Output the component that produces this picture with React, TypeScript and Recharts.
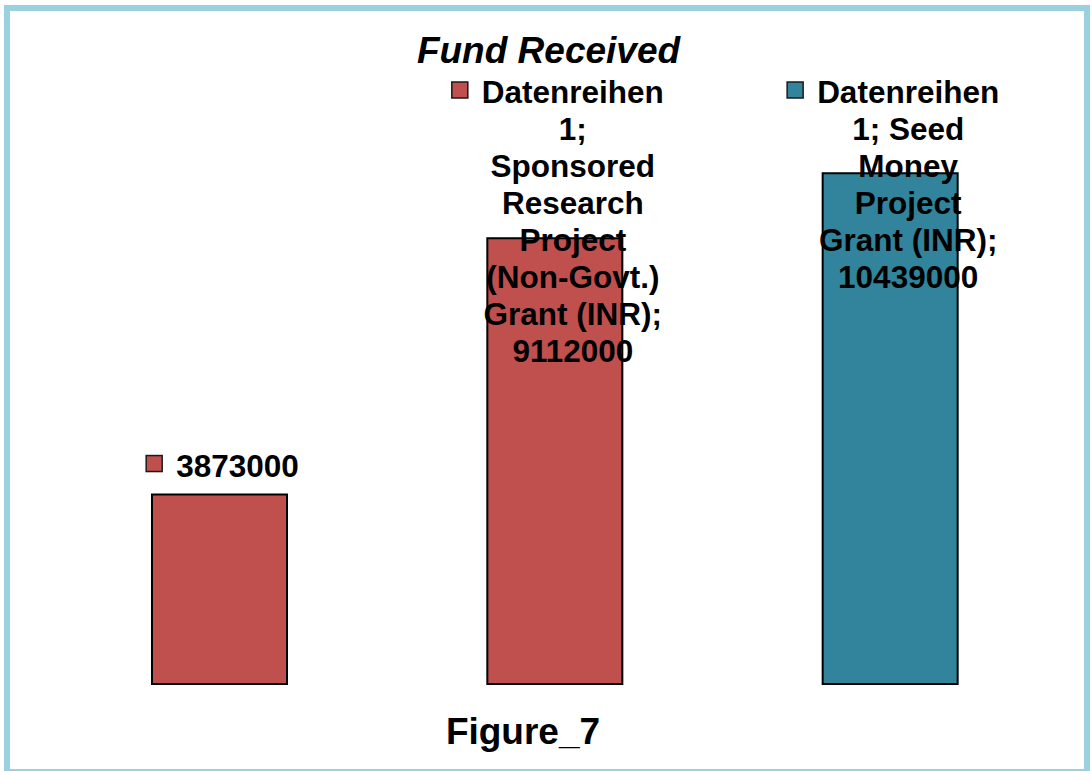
import { Bar, BarChart, Cell, LabelList, XAxis, YAxis } from 'recharts'

const categories = [
  'Govt. Grant (INR)',
  'Sponsored Research Project (Non-Govt.) Grant (INR)',
  'Seed Money Project Grant (INR)',
]
const values = [3873000, 9112000, 10439000]
const barColors = ['#C0504D', '#C0504D', '#31849B']
const labelLines = [
  ['3873000'],
  [
    'Datenreihen',
    '1;',
    'Sponsored',
    'Research',
    'Project',
    '(Non-Govt.)',
    'Grant (INR);',
    '9112000',
  ],
  ['Datenreihen', '1; Seed', 'Money', 'Project', 'Grant (INR);', '10439000'],
]

const data = categories.map((name, i) => ({ name, value: values[i] }))

const FONT = '"Liberation Sans", Arial, Helvetica, sans-serif'
const LABEL_SIZE = 31.5
const LINE_H = 37

let ctx: CanvasRenderingContext2D | null = null
function measure(s: string) {
  if (!ctx) ctx = document.createElement('canvas').getContext('2d')
  if (!ctx) return s.length * LABEL_SIZE * 0.6
  ctx.font = `bold ${LABEL_SIZE}px ${FONT}`
  return ctx.measureText(s).width
}

function BarLabel(props: any) {
  const { x, y, width, index } = props
  const lines = labelLines[index] ?? []
  const textW = Math.max(...lines.map(measure))
  const blockW = 16 + 14 + textW
  const cx = Number(x) + Number(width) / 2
  const left = cx - blockW / 2 + 3
  const textCx = left + 30 + textW / 2
  // first line sits just above the bar, but never above the plot top
  const firstBase = Math.max(Number(y) - 18 - (lines.length - 1) * LINE_H, 103)
  return (
    <g>
      <rect
        x={left}
        y={firstBase - 21}
        width={16}
        height={16}
        fill={barColors[index]}
        stroke="#1a1a1a"
        strokeWidth={1.5}
      />
      {lines.map((l, i) => (
        <text
          key={i}
          x={textCx}
          y={firstBase + i * LINE_H}
          textAnchor="middle"
          fontFamily={FONT}
          fontWeight="bold"
          fontSize={LABEL_SIZE}
          fill="#000"
        >
          {l}
        </text>
      ))}
    </g>
  )
}

export default function App() {
  return (
    <div
      style={{
        position: 'absolute',
        left: 0,
        top: 0,
        width: 1092,
        height: 771,
        overflow: 'hidden',
        background: '#fff',
      }}
    >
      <div
        style={{
          position: 'absolute',
          left: 4,
          top: 5,
          width: 1086,
          height: 770,
          boxSizing: 'border-box',
          border: '6px solid #9BD0E0',
        }}
      />
      <div style={{ position: 'absolute', left: 0, top: 0 }}>
        <BarChart
          width={1092}
          height={771}
          data={data}
          margin={{ top: 97, right: 34, bottom: 87, left: 52 }}
        >
          <XAxis dataKey="name" hide />
          <YAxis domain={[0, 12000000]} hide />
          <Bar
            dataKey="value"
            barSize={135}
            stroke="#000"
            strokeWidth={2}
            isAnimationActive={false}
          >
            {data.map((d, i) => (
              <Cell key={d.name} fill={barColors[i]} />
            ))}
            <LabelList dataKey="value" content={<BarLabel />} />
          </Bar>
        </BarChart>
      </div>
      <svg
        width={1092}
        height={771}
        style={{ position: 'absolute', left: 0, top: 0, pointerEvents: 'none' }}
      >
        <text
          x={548.5}
          y={63}
          textAnchor="middle"
          fontFamily={FONT}
          fontWeight="bold"
          fontStyle="italic"
          fontSize={37}
          fill="#000"
        >
          Fund Received
        </text>
        <text
          x={523}
          y={744}
          textAnchor="middle"
          fontFamily={FONT}
          fontWeight="bold"
          fontSize={37}
          fill="#000"
        >
          Figure_7
        </text>
      </svg>
    </div>
  )
}
